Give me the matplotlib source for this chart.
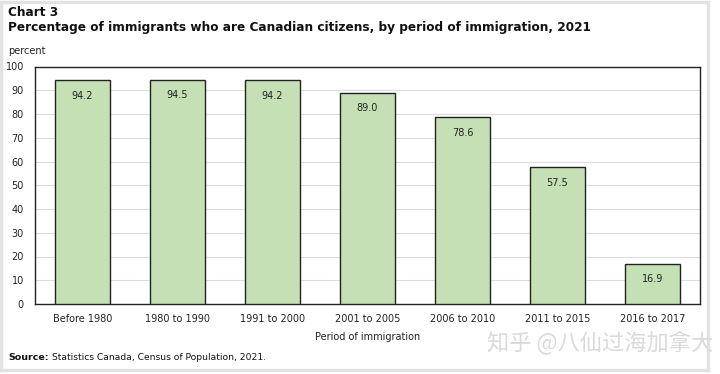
import matplotlib.pyplot as plt
from matplotlib.patches import Rectangle

periods = ["Before 1980", "1980 to 1990", "1991 to 2000", "2001 to 2005",
           "2006 to 2010", "2011 to 2015", "2016 to 2017"]
pct = [94.2, 94.5, 94.2, 89.0, 78.6, 57.5, 16.9]
yticks = list(range(0, 101, 10))

fig = plt.figure(figsize=(7.2, 3.74), dpi=100)
ax = fig.add_axes([35 / 720, 1 - 304 / 374, 665 / 720, 237.5 / 374])

x = range(len(periods))
ax.bar(x, pct, width=0.58, color="#c5e0b4", edgecolor="#222222", linewidth=1.0, zorder=3)
for i, v in enumerate(pct):
    ax.annotate(f"{v:.1f}", (i, v), xytext=(0, -11), textcoords="offset points",
                ha="center", va="center", fontsize=7, color="#222222", zorder=4)

ax.set_xlim(-0.5, len(periods) - 0.5)
ax.set_ylim(0, 100)
ax.set_yticks(yticks)
ax.set_xticks(list(x))
ax.set_xticklabels(periods)
ax.tick_params(axis="both", length=0, labelsize=7, colors="#222222")
ax.tick_params(axis="x", pad=7)
ax.tick_params(axis="y", pad=8)
ax.grid(axis="y", color="#dddddd", linewidth=0.8, zorder=0)
for s in ax.spines.values():
    s.set_color("#222222")
    s.set_linewidth(1.0)
ax.set_xlabel("Period of immigration", fontsize=7, color="#222222", labelpad=6)

fig.text(8 / 720, 1 - 12 / 374, "Chart 3", fontsize=8.7, fontweight="bold", va="center", color="#111111")
fig.text(8 / 720, 1 - 28 / 374,
         "Percentage of immigrants who are Canadian citizens, by period of immigration, 2021",
         fontsize=8.7, fontweight="bold", va="center", color="#111111")
fig.text(8 / 720, 1 - 51 / 374, "percent", fontsize=7, va="center", color="#222222")
fig.text(8 / 720, 1 - 357 / 374, "Source:", fontsize=6.8, fontweight="bold",
         va="center", color="#111111")
fig.text(52 / 720, 1 - 357 / 374, "Statistics Canada, Census of Population, 2021.",
         fontsize=6.6, va="center", color="#111111")
fig.text(713 / 720, 1 - 343 / 374, "知乎 @八仙过海加拿大", fontsize=16, ha="right", va="center",
         color="#dadada", fontweight="light", family=["Noto Sans CJK SC", "DejaVu Sans"])

# light frame around the chart
fig.patches.append(Rectangle((1 / 720, 1 - 370 / 374), 707 / 720, 368 / 374,
                             transform=fig.transFigure, fill=False,
                             edgecolor="#e2e2e2", linewidth=2.5))

fig.savefig("out.png", dpi=100)
